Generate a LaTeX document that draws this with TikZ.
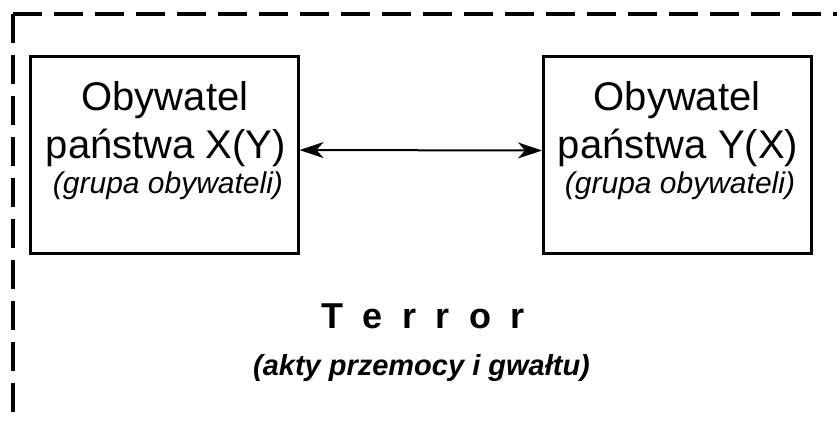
\documentclass[tikz,border=0pt]{standalone}
\usepackage{fontspec}
\setmainfont{Liberation Sans}
\usetikzlibrary{arrows.meta}

\tikzset{
  citizen/.style={draw=black, line width=3pt, inner sep=0pt,
    minimum width=268pt, minimum height=197pt},
  bigline/.style={anchor=base, inner sep=0pt, font=\fontsize{40}{48}\selectfont},
  subline/.style={anchor=base, inner sep=0pt, font=\fontsize{30}{34}\selectfont\itshape},
  frame/.style={line width=4.5pt, dash pattern=on 29pt off 12pt},
  link/.style={line width=2pt, {Stealth[length=24pt,width=16pt,inset=7pt]}-{Stealth[length=24pt,width=16pt,inset=7pt]}}
}

\begin{document}
\begin{tikzpicture}[x=1pt, y=-1pt]
  \useasboundingbox[fill=white] (0,0) rectangle (837,421);

  % dashed frame, open towards the right and the bottom
  \coordinate (fc) at (13,14);
  \coordinate (fb) at (13,421);
  \coordinate (fr) at (837,14);
  \draw[frame] (fc) -- (fb);
  \draw[frame] (fc) -- (fr);

  % the two citizens
  \node[citizen] (bl) at (164,154.5) {};
  \node[citizen] (br) at (677.5,155) {};

  \node[bigline] (bl1) at (165,110) {Obywatel};
  \node[bigline] (bl2) at (166,158) {państwa X(Y)};
  \node[subline] (bl3) at (168,193) {(grupa obywateli)};

  \node[bigline] (br1) at (677,110) {Obywatel};
  \node[bigline] (br2) at (678,158) {państwa Y(X)};
  \node[subline] (br3) at (680,193) {(grupa obywateli)};

  % mutual relation
  \draw[link] ([yshift=4.5pt]bl.east) -- ([yshift=4.5pt]br.west);

  % caption
  \node[anchor=base, inner sep=0pt, font=\fontsize{36}{40}\selectfont\bfseries] (terror) at (423,328)
    {T\kern19.5pt e\kern19.5pt r\kern19.5pt r\kern19.5pt o\kern19.5pt r};
  \node[anchor=base, inner sep=0pt, font=\fontsize{29}{34}\selectfont\bfseries\itshape] (acts) at (421.5,375)
    {(akty przemocy i gwałtu)};
\end{tikzpicture}
\end{document}
